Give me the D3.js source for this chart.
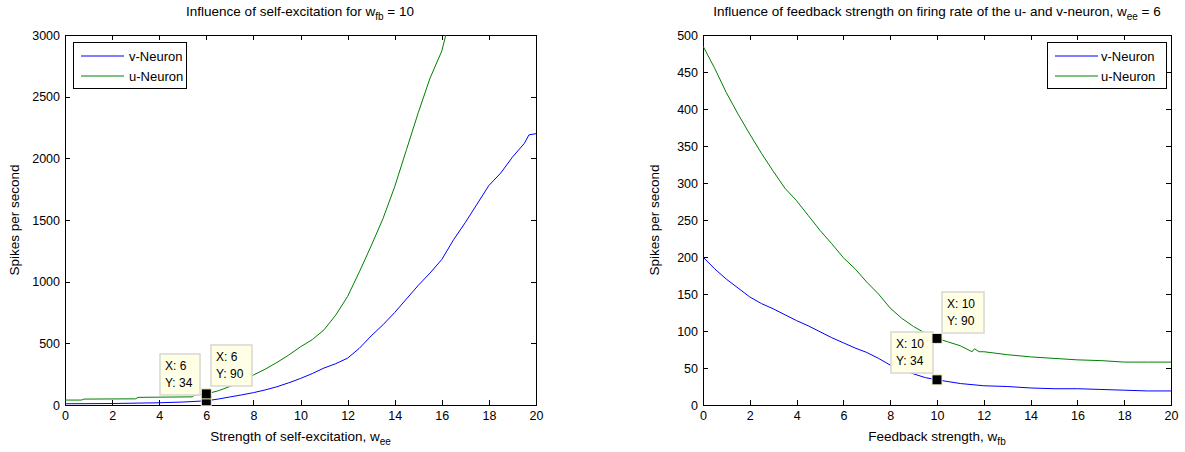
<!DOCTYPE html>
<html lang="en">
<head>
<meta charset="UTF-8">
<title>Influence of self-excitation and feedback strength</title>
<script src="https://d3js.org/d3.v7.min.js"></script>
<style>
  body { margin: 0; background: #fff; }
  svg text { font-family: "Liberation Sans", Arial, sans-serif; fill: #000; }
  .axis text { font-size: 12.5px; }
  .axis path, .axis line { stroke: #000; shape-rendering: crispEdges; }
</style>
</head>
<body>
<script>
  // left plot: rate vs self-excitation w_ee (w_fb = 10)
  var weeX = [0, 0.7, 0.8, 3.0, 3.1, 5.4, 5.5, 6, 6.5, 7, 7.5, 8, 8.5, 9, 9.5, 10, 10.5, 11, 11.5, 12, 12.5, 13, 13.5, 14, 14.5, 15, 15.5, 16, 16.3]
  var weeU = [40, 40, 48, 50, 62, 66, 80, 90, 115, 150, 195, 243, 290, 345, 405, 472, 530, 610, 730, 880, 1080, 1290, 1510, 1770, 2070, 2370, 2650, 2870, 3100]
  var weeVX = [0, 2, 4, 5, 6, 6.5, 7, 7.5, 8, 8.5, 9, 9.5, 10, 10.5, 11, 11.5, 12, 12.5, 13, 13.5, 14, 14.5, 15, 15.5, 16, 16.5, 17, 17.5, 18, 18.5, 19, 19.5, 19.7, 20]
  var weeV = [10, 12, 18, 24, 34, 48, 65, 82, 100, 122, 148, 180, 215, 255, 300, 335, 380, 460, 560, 650, 750, 860, 970, 1070, 1180, 1340, 1480, 1630, 1780, 1880, 2010, 2120, 2190, 2200]

  // right plot: rate vs feedback strength w_fb (w_ee = 6)
  var fbUX = [0, 0.5, 1, 1.5, 2, 2.5, 3, 3.5, 4, 4.5, 5, 5.5, 6, 6.5, 7, 7.5, 8, 8.5, 9, 9.5, 10, 10.5, 11, 11.5, 11.6, 11.8, 12, 13, 14, 15, 16, 17, 18, 19, 20]
  var fbU = [485, 455, 422, 393, 366, 340, 316, 293, 276, 256, 236, 218, 199, 184, 166, 150, 131, 117, 106, 97, 90, 85, 80, 72, 76, 72, 72, 68, 65, 63, 61, 60, 58, 58, 58]
  var fbVX = [0, 0.5, 1, 1.5, 2, 2.5, 3, 3.5, 4, 4.5, 5, 5.5, 6, 6.5, 7, 7.5, 8, 8.5, 9, 9.5, 10, 11, 12, 13, 14, 15, 16, 17, 18, 19, 20]
  var fbV = [200, 184, 170, 158, 146, 137, 130, 122, 114, 107, 99, 91, 84, 77, 71, 63, 54, 48, 42, 37, 34, 29, 26, 25, 23, 22, 22, 21, 20, 19, 19]

  var legendNames = ['v-Neuron', 'u-Neuron']
  var xTicks = d3.range(0, 21, 2)

  var width = 1185, height = 452
  var svg = d3.select('body').append('svg').attr('width', width).attr('height', height)

  function drawPanel(opt) {
    var x = d3.scaleLinear().domain([0, 20]).range([opt.left, opt.right])
    var y = d3.scaleLinear().domain([0, opt.ymax]).range([opt.bottom, opt.top])
    var g = svg.append('g')
    var clipId = 'clip' + opt.id
    svg.append('clipPath').attr('id', clipId).append('rect')
      .attr('x', opt.left).attr('y', opt.top)
      .attr('width', opt.right - opt.left).attr('height', opt.bottom - opt.top)

    // axes, ticks pointing inward on all four sides
    g.append('g').attr('class', 'axis').attr('transform', 'translate(0,' + opt.bottom + ')')
      .call(d3.axisBottom(x).tickValues(xTicks).tickSize(-5).tickSizeOuter(0).tickPadding(6).tickFormat(d3.format('d')))
    g.append('g').attr('class', 'axis').attr('transform', 'translate(0,' + opt.top + ')')
      .call(d3.axisTop(x).tickValues(xTicks).tickSize(-5).tickSizeOuter(0).tickFormat(''))
    g.append('g').attr('class', 'axis').attr('transform', 'translate(' + opt.left + ',0)')
      .call(d3.axisLeft(y).tickValues(opt.yTicks).tickSize(-5).tickSizeOuter(0).tickPadding(5).tickFormat(d3.format('d')))
    g.append('g').attr('class', 'axis').attr('transform', 'translate(' + opt.right + ',0)')
      .call(d3.axisRight(y).tickValues(opt.yTicks).tickSize(-5).tickSizeOuter(0).tickFormat(''))

    // lines
    var line = d3.line().x(function (d) { return x(d[0]) }).y(function (d) { return y(d[1]) })
    opt.series.forEach(function (s) {
      g.append('path').datum(d3.zip(s.x, s.y))
        .attr('clip-path', 'url(#' + clipId + ')')
        .attr('fill', 'none').attr('stroke', s.color).attr('stroke-width', 1)
        .attr('d', line)
    })

    // title
    var t = g.append('text').attr('x', opt.titleX).attr('y', 16).attr('text-anchor', 'middle').attr('font-size', 13.5)
    t.append('tspan').text(opt.title)
    t.append('tspan').attr('font-size', 10).attr('dy', 4).text(opt.titleSub)
    t.append('tspan').attr('dy', -4).text(opt.titleEnd)

    // x label
    var xl = g.append('text').attr('x', (opt.left + opt.right) / 2).attr('y', 441)
      .attr('text-anchor', 'middle').attr('font-size', 13.5)
    xl.append('tspan').text(opt.xlabel)
    xl.append('tspan').attr('font-size', 10).attr('dy', 4).text(opt.xlabelSub)

    // y label
    g.append('text').attr('transform', 'translate(' + opt.ylabelX + ',' + ((opt.top + opt.bottom) / 2) + ') rotate(-90)')
      .attr('text-anchor', 'middle').attr('font-size', 13.5).text('Spikes per second')

    // legend
    var lg = g.append('g').attr('transform', 'translate(' + opt.legX + ',42)')
    lg.append('rect').attr('width', opt.legW).attr('height', 46)
      .attr('fill', '#fff').attr('stroke', '#000').attr('shape-rendering', 'crispEdges')
    legendNames.forEach(function (name, i) {
      var yy = 14 + i * 20
      lg.append('line').attr('x1', 8).attr('x2', 51).attr('y1', yy).attr('y2', yy)
        .attr('stroke', opt.series[i].color)
      lg.append('text').attr('x', opt.legTextX).attr('y', yy + 5).attr('font-size', 13).text(name)
    })

    // data tips: boxes first, markers on top
    opt.tips.forEach(function (tp) {
      var box = g.append('g').attr('transform', 'translate(' + tp.bx + ',' + tp.by + ')')
      box.append('rect').attr('width', tp.bw).attr('height', 41)
        .attr('fill', '#ffffe6').attr('stroke', '#d8d8d0').attr('stroke-width', 1.5)
      box.append('text').attr('x', 5).attr('y', 16).attr('font-size', 12).text('X: ' + tp.x)
      box.append('text').attr('x', 5).attr('y', 33).attr('font-size', 12).text('Y: ' + tp.y)
    })
    opt.tips.forEach(function (tp) {
      g.append('rect').attr('x', x(tp.x) - 5).attr('y', y(tp.y) - 5).attr('width', 10).attr('height', 10)
        .attr('fill', '#000').attr('stroke', '#f2f0c8').attr('stroke-width', 1)
    })
  }

  drawPanel({
    id: 'a', left: 65, right: 536, top: 35, bottom: 405, ymax: 3000,
    yTicks: d3.range(0, 3001, 500),
    series: [{ x: weeVX, y: weeV, color: '#0000ff' }, { x: weeX, y: weeU, color: '#008000' }],
    titleX: 300, title: 'Influence of self-excitation for w', titleSub: 'fb', titleEnd: ' = 10',
    xlabel: 'Strength of self-excitation, w', xlabelSub: 'ee', ylabelX: 19,
    legX: 73, legW: 113, legTextX: 56,
    tips: [{ x: 6, y: 34, bx: 160, by: 354, bw: 40 }, { x: 6, y: 90, bx: 211, by: 345, bw: 41 }]
  })

  drawPanel({
    id: 'b', left: 703, right: 1171, top: 35, bottom: 405, ymax: 500,
    yTicks: d3.range(0, 501, 50),
    series: [{ x: fbVX, y: fbV, color: '#0000ff' }, { x: fbUX, y: fbU, color: '#008000' }],
    titleX: 937, title: 'Influence of feedback strength on firing rate of the u- and v-neuron, w', titleSub: 'ee', titleEnd: ' = 6',
    xlabel: 'Feedback strength, w', xlabelSub: 'fb', ylabelX: 659,
    legX: 1047, legW: 119, legTextX: 54,
    tips: [{ x: 10, y: 90, bx: 942, by: 292, bw: 42 }, { x: 10, y: 34, bx: 891, by: 332, bw: 42 }]
  })
</script>
</body>
</html>
